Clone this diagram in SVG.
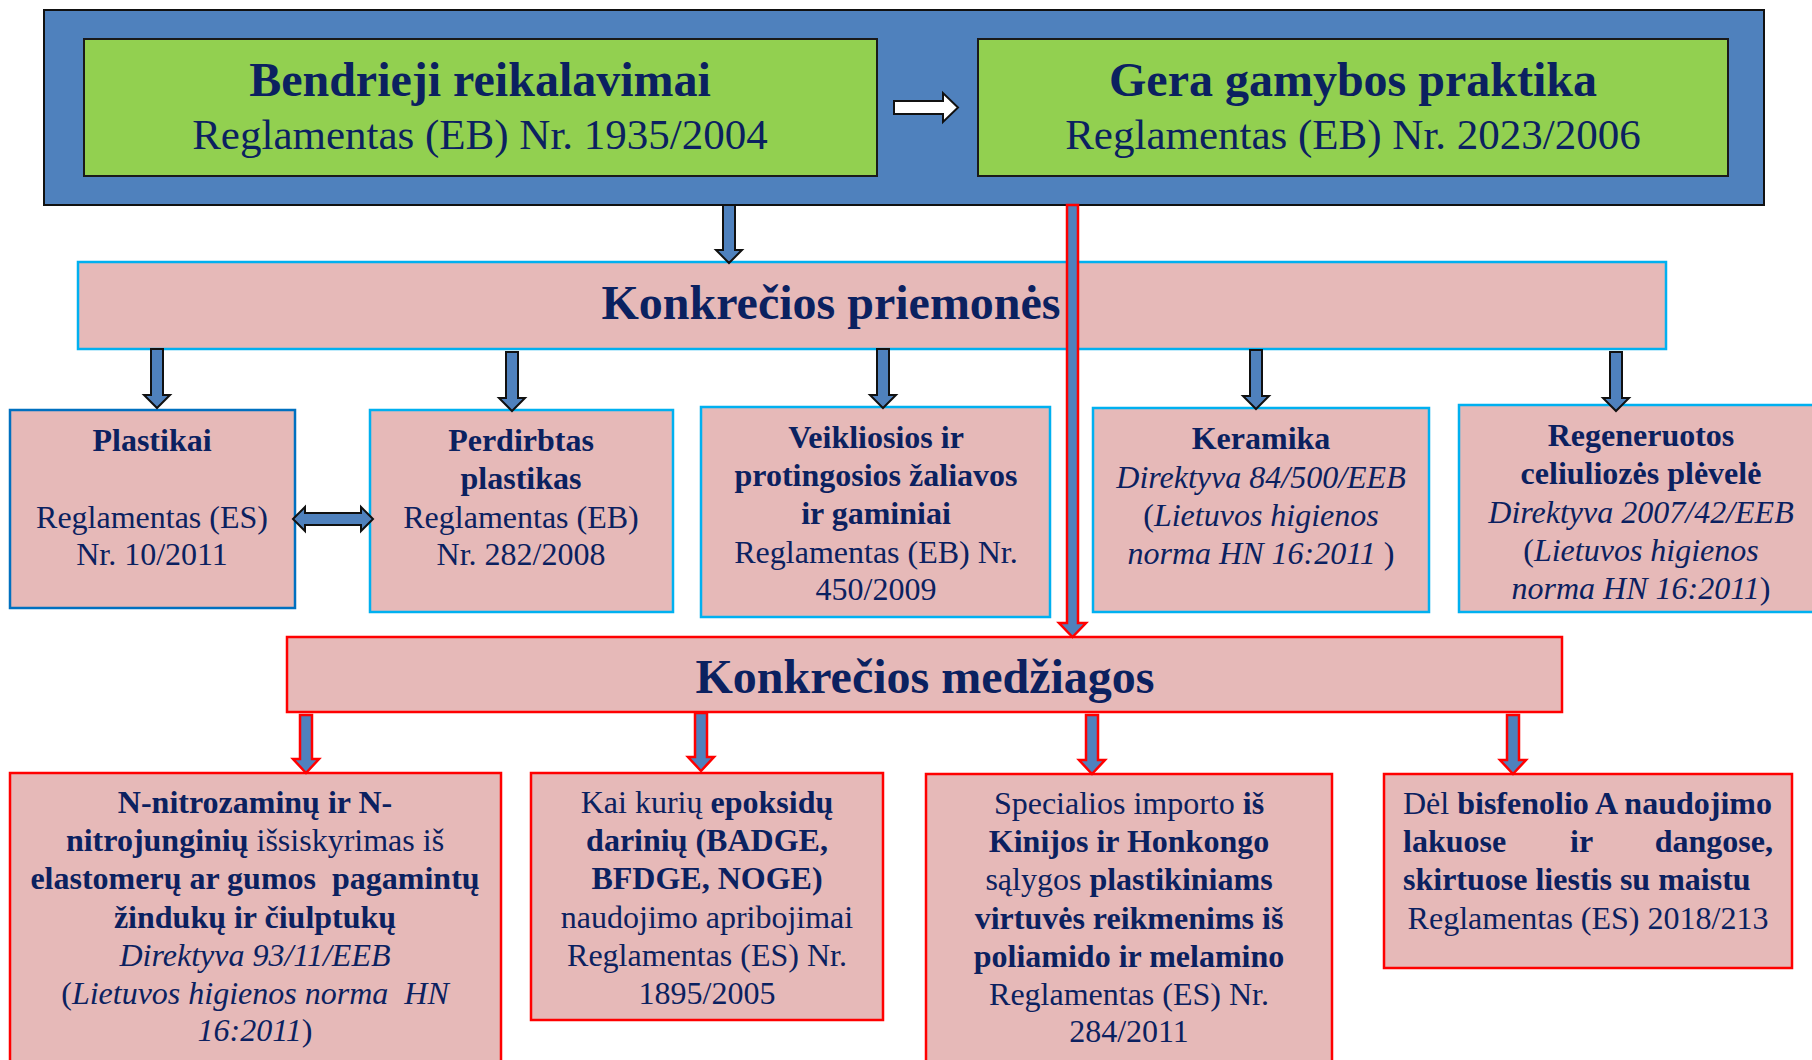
<svg xmlns="http://www.w3.org/2000/svg" width="1812" height="1060" viewBox="0 0 1812 1060">
<style>
text{font-family:"Liberation Serif","Times New Roman",serif;fill:#0B2160;}
.c{text-anchor:middle;}
.b{font-weight:bold;}
.i{font-style:italic;}
.n{font-style:normal;}
.pre{white-space:pre;}
.t48{font-size:48px;}
.t42{font-size:43px;}
.t32{font-size:32px;}
.pink{fill:#E6B9B8;}
.cyan{stroke:#00B0F0;stroke-width:2.5;}
.redb{stroke:#FF0000;stroke-width:2.5;}
.green{fill:#92D050;stroke:#1a1a1a;stroke-width:2;}
.ab{fill:#4F81BD;stroke:#111;stroke-width:2;stroke-linejoin:miter;}
.ar{fill:#4F81BD;stroke:#FF0000;stroke-width:2.5;stroke-linejoin:miter;}
.aw{fill:#FFFFFF;stroke:#111;stroke-width:2;}
</style>
<rect width="1812" height="1060" fill="#FFFFFF"/>
<g id="top-frame">
  <rect x="44" y="10" width="1720" height="195" fill="#4F81BD" stroke="#111" stroke-width="2"/>
</g>
<g id="node-bendrieji">
  <rect class="green" x="84" y="39" width="793" height="137"/>
  <text class="c b t48" x="480" y="96">Bendrieji reikalavimai</text>
  <text class="c t42" x="480" y="149">Reglamentas (EB) Nr. 1935/2004</text>
</g>
<g id="node-gera">
  <rect class="green" x="978" y="39" width="750" height="137"/>
  <text class="c b t48" x="1353" y="96">Gera gamybos praktika</text>
  <text class="c t42" x="1353" y="149">Reglamentas (EB) Nr. 2023/2006</text>
</g>
<g id="node-priemones">
  <rect class="pink cyan" x="78" y="262" width="1588" height="87"/>
  <text class="c b t48" x="831" y="319">Konkrečios priemonės</text>
</g>
<g id="node-plastikai">
  <rect class="pink" x="10" y="410" width="285" height="198" stroke="#0070C0" stroke-width="2.5"/>
  <text class="c b t32" x="152" y="451">Plastikai</text>
  <text class="c t32" x="152" y="528">Reglamentas (ES)</text>
  <text class="c t32" x="152" y="565">Nr. 10/2011</text>
</g>
<g id="node-perdirbtas">
  <rect class="pink cyan" x="370" y="410" width="303" height="202"/>
  <text class="c b t32" x="521" y="451">Perdirbtas</text>
  <text class="c b t32" x="521" y="489">plastikas</text>
  <text class="c t32" x="521" y="528">Reglamentas (EB)</text>
  <text class="c t32" x="521" y="565">Nr. 282/2008</text>
</g>
<g id="node-veikliosios">
  <rect class="pink cyan" x="701" y="407" width="349" height="210"/>
  <text class="c b t32" x="876" y="448">Veikliosios ir</text>
  <text class="c b t32" x="876" y="486">protingosios žaliavos</text>
  <text class="c b t32" x="876" y="524">ir gaminiai</text>
  <text class="c t32" x="876" y="563">Reglamentas (EB) Nr.</text>
  <text class="c t32" x="876" y="600">450/2009</text>
</g>
<g id="node-keramika">
  <rect class="pink cyan" x="1093" y="408" width="336" height="204"/>
  <text class="c b t32" x="1261" y="449">Keramika</text>
  <text class="c i t32" x="1261" y="488">Direktyva 84/500/EEB</text>
  <text class="c i t32" x="1261" y="526"><tspan class="n">(</tspan>Lietuvos higienos</text>
  <text class="c i t32" x="1261" y="564">norma HN 16:2011 <tspan class="n">)</tspan></text>
</g>
<g id="node-regeneruotos">
  <rect class="pink cyan" x="1459" y="405" width="366" height="207"/>
  <text class="c b t32" x="1641" y="446">Regeneruotos</text>
  <text class="c b t32" x="1641" y="484">celiuliozės plėvelė</text>
  <text class="c i t32" x="1641" y="523">Direktyva 2007/42/EEB</text>
  <text class="c i t32" x="1641" y="561"><tspan class="n">(</tspan>Lietuvos higienos</text>
  <text class="c i t32" x="1641" y="599">norma HN 16:2011<tspan class="n">)</tspan></text>
</g>
<g id="node-medziagos">
  <rect class="pink redb" x="287" y="637" width="1275" height="75"/>
  <text class="c b t48" x="925" y="693">Konkrečios medžiagos</text>
</g>
<g id="node-nitrozaminai">
  <rect class="pink redb" x="10" y="773" width="491" height="300"/>
  <text class="c b t32" x="255" y="813">N-nitrozaminų ir N-</text>
  <text class="c t32" x="255" y="851"><tspan class="b">nitrojunginių</tspan> išsiskyrimas iš</text>
  <text class="c b t32 pre" x="255" y="889">elastomerų ar gumos  pagamintų</text>
  <text class="c b t32" x="255" y="928">žindukų ir čiulptukų</text>
  <text class="c i t32" x="255" y="966">Direktyva 93/11/EEB</text>
  <text class="c i t32 pre" x="255" y="1004"><tspan class="n">(</tspan>Lietuvos higienos norma  HN</text>
  <text class="c i t32" x="255" y="1041">16:2011<tspan class="n">)</tspan></text>
</g>
<g id="node-epoksidai">
  <rect class="pink redb" x="531" y="773" width="352" height="247"/>
  <text class="c t32" x="707" y="813">Kai kurių <tspan class="b">epoksidų</tspan></text>
  <text class="c b t32" x="707" y="851">darinių (BADGE,</text>
  <text class="c b t32" x="707" y="889">BFDGE, NOGE)</text>
  <text class="c t32" x="707" y="928">naudojimo apribojimai</text>
  <text class="c t32" x="707" y="966">Reglamentas (ES) Nr.</text>
  <text class="c t32" x="707" y="1004">1895/2005</text>
</g>
<g id="node-importas">
  <rect class="pink redb" x="926" y="774" width="406" height="300"/>
  <text class="c t32" x="1129" y="814">Specialios importo <tspan class="b">iš</tspan></text>
  <text class="c b t32" x="1129" y="852">Kinijos ir Honkongo</text>
  <text class="c t32" x="1129" y="890">sąlygos <tspan class="b">plastikiniams</tspan></text>
  <text class="c b t32" x="1129" y="929">virtuvės reikmenims iš</text>
  <text class="c b t32" x="1129" y="967">poliamido ir melamino</text>
  <text class="c t32" x="1129" y="1005">Reglamentas (ES) Nr.</text>
  <text class="c t32" x="1129" y="1042">284/2011</text>
</g>
<g id="node-bisfenolis">
  <rect class="pink redb" x="1384" y="774" width="408" height="194"/>
  <text class="t32" x="1403" y="814">Dėl <tspan class="b">bisfenolio A naudojimo</tspan></text>
  <text class="b t32" x="1403" y="852">lakuose</text>
  <text class="b t32" x="1570" y="852">ir</text>
  <text class="b t32" x="1773" y="852" text-anchor="end">dangose,</text>
  <text class="b t32" x="1403" y="890">skirtuose liestis su maistu</text>
  <text class="c t32" x="1588" y="929">Reglamentas (ES) 2018/213</text>
</g>
<g id="connectors">
  <path class="aw" d="M894 101 H943 V93 L958 107.5 L943 122 V114 H894 Z"/>
  <path class="ab" d="M723 205 H735 V250 H742 L729 263 L716 250 H723 Z"/>
  <path class="ab" d="M151 349 H163 V395 H170 L157 408 L144 395 H151 Z"/>
  <path class="ab" d="M506 352 H518 V398 H525 L512 411 L499 398 H506 Z"/>
  <path class="ab" d="M877 349 H889 V395 H896 L883 408 L870 395 H877 Z"/>
  <path class="ab" d="M1250 350 H1262 V396 H1269 L1256 409 L1243 396 H1250 Z"/>
  <path class="ab" d="M1610 352 H1622 V398 H1629 L1616 411 L1603 398 H1610 Z"/>
  <path class="ab" d="M293 519 L305 507 V513 H361 V507 L373 519 L361 531 V525 H305 V531 Z"/>
  <path class="ar" d="M1067 205 H1078 V623 H1086 L1072.5 637 L1059 623 H1067 Z" stroke-width="3"/>
  <path class="ar" d="M300 715 H312 V759 H319 L306 773 L293 759 H300 Z"/>
  <path class="ar" d="M695 713 H707 V757 H714 L701 771 L688 757 H695 Z"/>
  <path class="ar" d="M1086 715 H1098 V760 H1105 L1092 774 L1079 760 H1086 Z"/>
  <path class="ar" d="M1507 715 H1519 V760 H1526 L1513 774 L1500 760 H1507 Z"/>
</g>
</svg>
